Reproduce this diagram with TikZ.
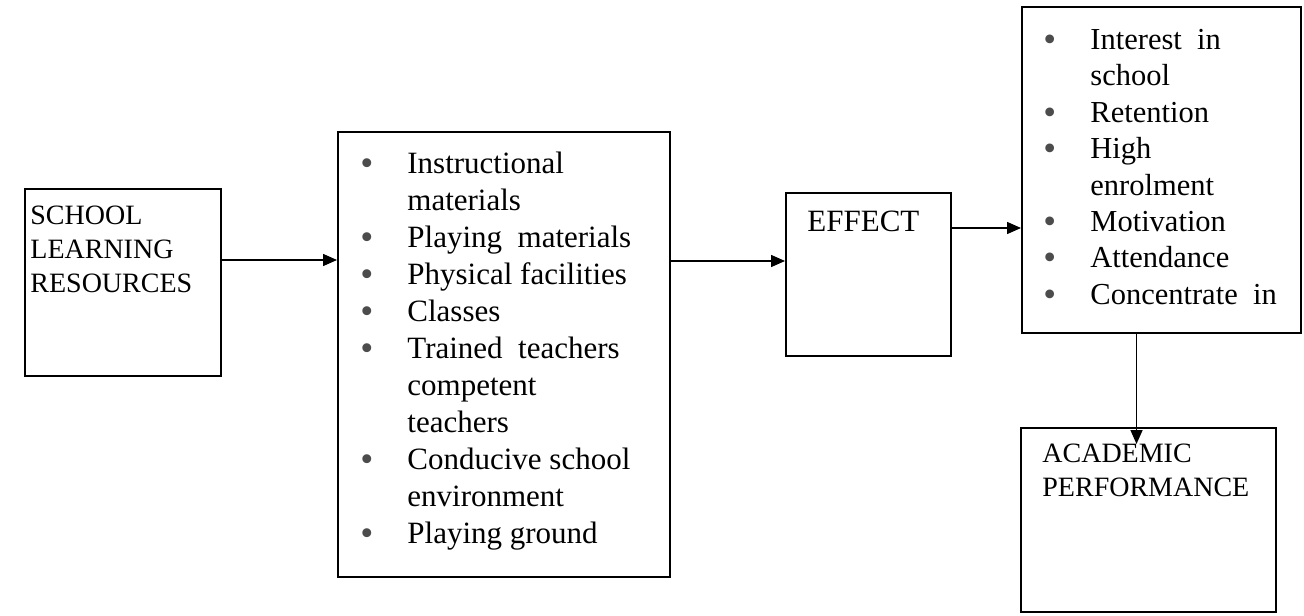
\documentclass[tikz,border=0pt]{standalone}
\usepackage{fontspec}
\setmainfont{Liberation Serif}
\usetikzlibrary{arrows.meta,positioning,fit}
\newcommand{\bul}{\makebox[23.5pt][l]{\raisebox{-1pt}{\scalebox{1.2}{\color{black!70}•}}}}
\newcommand{\nob}{\hspace*{23.5pt}}

\begin{document}
\begin{tikzpicture}[x=0.5pt, y=-0.5pt,
  box/.style={draw, line width=1pt, inner sep=0pt},
  caps/.style={inner sep=0pt, anchor=north west, align=left, font=\fontsize{14}{16.9}\selectfont},
  list/.style={inner sep=0pt, anchor=north west, align=left, font=\fontsize{15.5}{18.5}\selectfont},
  arr/.style={-{Triangle[length=7pt, width=6pt]}, line width=0.75pt}
]
  \useasboundingbox (0,0) rectangle (1304,615);

  % boxes
  \node[box, fit={(25,189) (221,376)}] (resources) {};
  \node[box, fit={(338,132) (670,577)}] (materials) {};
  \node[box, fit={(786,193) (951,356)}] (effect) {};
  \node[box, fit={(1022,7) (1301,333)}] (outcomes) {};
  \node[box, fit={(1021,428) (1276,612)}] (performance) {};

  % texts
  \node[caps] (resources-text) at (30,206) {SCHOOL\\LEARNING\\RESOURCES};
  \node[list] (materials-text) at (360,152) {\bul Instructional\\\nob materials\\\bul Playing\ \ materials\\\bul Physical facilities\\\bul Classes\\\bul Trained\ \ teachers\\\nob competent\\\nob teachers\\\bul Conducive school\\\nob environment\\\bul Playing ground};
  \node[list] (effect-text) at (807,211) {EFFECT};
  \node[list, font=\fontsize{15.25}{18.2}\selectfont] (outcomes-text) at (1043,29) {\bul Interest\ \ in\\\nob school\\\bul Retention\\\bul High\\\nob enrolment\\\bul Motivation\\\bul Attendance\\\bul Concentrate\ \ in};
  \node[caps] (performance-text) at (1042,444) {ACADEMIC\\PERFORMANCE};

  % connectors
  \draw[arr] ([yshift=11.25pt]resources.east) coordinate (r1) -- (r1 -| materials.west);
  \draw[arr] ([yshift=6.75pt]effect.west) coordinate (e1) (materials.east |- e1) -- (e1);
  \draw[arr] ([yshift=23.25pt]effect.east) coordinate (e2) -- (e2 -| outcomes.west);
  \draw[arr] ([xshift=-12.5pt]outcomes.south) coordinate (o1) -- ([yshift=-8.5pt]o1 |- performance.north);
\end{tikzpicture}
\end{document}
